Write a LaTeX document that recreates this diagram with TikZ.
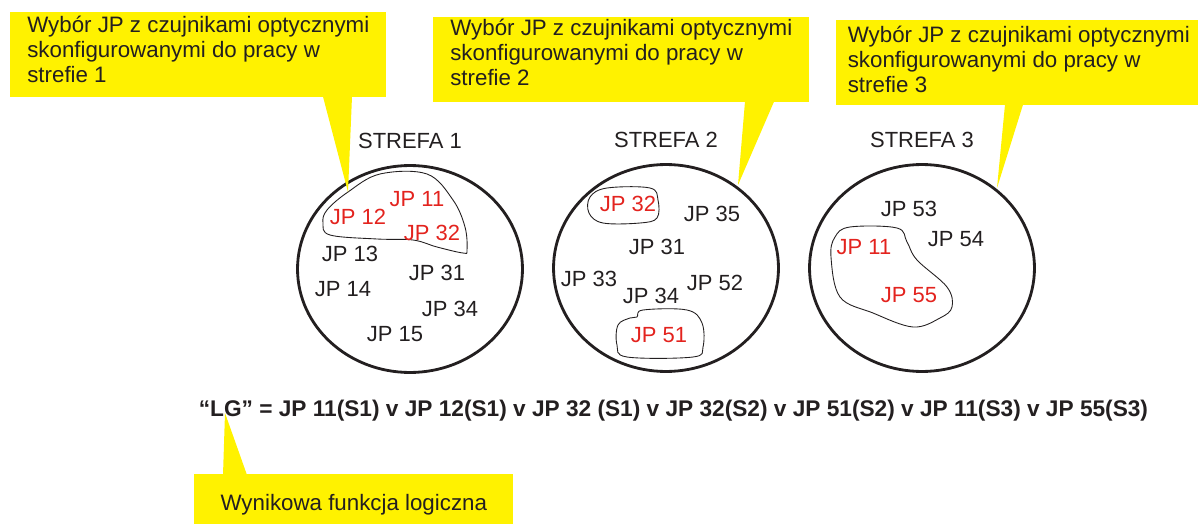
\documentclass[tikz,border=0pt]{standalone}
\usepackage{fontspec}
\setmainfont{Liberation Sans}
\usetikzlibrary{shapes.geometric,calc}
\definecolor{noteyellow}{RGB}{255,242,0}
\definecolor{selred}{RGB}{227,35,30}
\definecolor{ink}{RGB}{35,31,32}
\tikzset{
  zone/.style={ellipse, draw=ink, line width=1.6pt, inner sep=0pt,
               minimum width=4.5cm, minimum height=4.14cm},
  group/.style={draw=ink, line width=0.5pt},
  jp/.style={text=ink, inner sep=0pt, font=\fontsize{12.5pt}{14pt}\selectfont},
  jpsel/.style={jp, text=selred},
  note/.style={fill=noteyellow, text=ink, align=left, inner sep=0pt, anchor=north west,
               font=\fontsize{12.7pt}{14.2pt}\selectfont},
  formula/.style={text=ink, inner sep=0pt, font=\fontsize{12.9pt}{14pt}\selectfont\bfseries}
}

\begin{document}
\begin{tikzpicture}[x=0.02cm, y=-0.02cm]
\useasboundingbox (0,0) rectangle (1198,524);

% Zones
\foreach \x/\y [count=\n] in {410/269, 666/268, 922/268} {
  \node[zone] (zone\n) at (\x,\y) {};
}
\foreach \x/\y [count=\n] in {410/141, 666/139.5, 922/139.5} {
  \node[jp] (title\n) at (\x,\y) {STREFA \n};
}

% Selected groups
\draw[group] plot[smooth cycle, tension=0.6] coordinates {(348,192) (380,174) (427,174) (453,200)
  (465,227) (467,250) (463,253) (437,247) (413,240) (377,239) (330,235) (323,223) (327,210)};
\draw[group] plot[smooth cycle, tension=0.6] coordinates {(607,188) (650,188) (658,200) (657,218)
  (640,223) (603,223) (589,213) (590,197)};
\draw[group] plot[smooth cycle, tension=0.6] coordinates {(637,317) (643,310) (687,310) (702,323)
  (703,347) (693,357) (627,357) (617,345) (618,325) (630,318)};
\draw[group] plot[smooth cycle, tension=0.6] coordinates {(850,227) (897,228) (907,242) (917,260)
  (947,287) (952,307) (940,318) (913,327) (873,313) (840,297) (831,257) (835,237)};

% JP in zones
\foreach \z/\nr/\x/\y in {1/13/350/254, 1/14/343/289, 1/15/395/334, 1/31/437/273, 1/34/450/309,
                          2/35/712/214, 2/31/657/247, 2/33/589/279, 2/52/715/283, 2/34/651/296,
                          3/53/909/209, 3/54/956/239} {
  \node[jp] (z\z-\nr) at (\x,\y) {JP \nr};
}
\foreach \z/\nr/\x/\y in {1/11/417/199, 1/12/358/217, 1/32/432/233,
                          2/32/628/204, 2/51/659/335,
                          3/11/864/247, 3/55/909/295} {
  \node[jpsel] (z\z-\nr) at (\x,\y) {JP \nr};
}

% Logic function
\node[formula] (lg) at (673.5,411)
  {“LG” = JP 11(S1) v JP 12(S1) v JP 32 (S1) v JP 32(S2) v JP 51(S2) v JP 11(S3) v JP 55(S3)};

% Yellow notes
\foreach \x/\y/\w/\d [count=\n] in {10/12/7.52/6, 433/17/7.52/8.3, 836/20/7.3/3.7} {
  \node[note, minimum width=\w cm, minimum height=1.7cm, text depth=\d pt] (sel\n) at (\x,\y)
    {Wybór JP z czujnikami optycznymi\\skonfigurowanymi do pracy w\\strefie \n};
}
\foreach \n/\a/\b/\tx/\ty in {1/313/342/348/192, 2/312/341/738/185, 3/169/187/997/188} {
  \coordinate (tip\n) at (\tx,\ty);
  \fill[noteyellow] ($(sel\n.south west)+(\a,-1)$) -- (tip\n) -- ($(sel\n.south west)+(\b,-1)$) -- cycle;
}

\node[note, minimum width=6.38cm, minimum height=1.2cm] (res) at (194,474) {Wynikowa funkcja logiczna};
\coordinate (tip4) at (225,413);
\fill[noteyellow] ($(res.north west)+(29,1)$) -- (tip4) -- ($(res.north west)+(53,1)$) -- cycle;
\end{tikzpicture}
\end{document}
